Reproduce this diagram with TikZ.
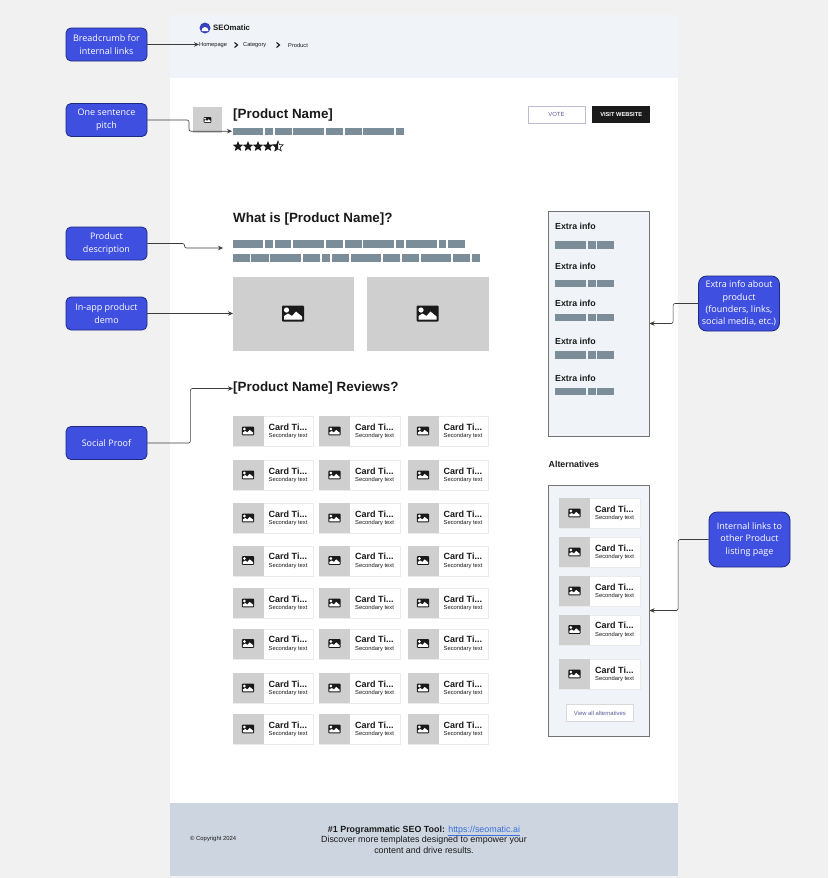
\documentclass[tikz,border=0pt]{standalone}
\usepackage{fontspec}
\setmainfont{Liberation Sans}
\newfontfamily\notefont{Open Sans}
\usepackage{xcolor}
\usetikzlibrary{shapes,positioning,arrows.meta}

\definecolor{pagegray}{HTML}{F1F1F1}
\definecolor{headbg}{HTML}{F0F3F8}
\definecolor{footbg}{HTML}{CDD6E0}
\definecolor{skelgray}{HTML}{7C8D9A}
\definecolor{imggray}{HTML}{CFCFCF}
\definecolor{noteblue}{HTML}{3F4FE0}
\definecolor{noteedge}{HTML}{1E2A80}
\definecolor{inkdark}{HTML}{1A1A1A}
\definecolor{linkblue}{HTML}{3B6FDC}
\definecolor{btntext}{HTML}{5A5A9C}

\tikzset{
    notebox/.style={draw=noteedge, line width=0.8pt, fill=noteblue, rounded corners=5pt, text=white, font=\notefont\fontsize{9}{12.4}\selectfont, align=center, inner sep=0pt, minimum width=81pt, minimum height=33pt},
    notearrow/.style={draw=inkdark!85, line width=0.6pt, rounded corners=2pt, -{Stealth[length=5pt,width=4.5pt]}},
    sidebox/.style={draw=black!55, line width=1pt, fill=headbg, anchor=north west, inner sep=0pt, outer sep=0pt, minimum width=101pt},
    imgbox/.style={fill=imggray, anchor=north west, inner sep=0pt, outer sep=0pt},
    skel/.style={fill=skelgray},
    lefttext/.style={anchor=west, inner sep=0pt, text=inkdark},
    headline/.style={lefttext, font=\bfseries\fontsize{13.4}{16}\selectfont},
    crumbtext/.style={lefttext, font=\fontsize{5.7}{6}\selectfont},
    extratext/.style={lefttext, font=\bfseries\fontsize{8.8}{10}\selectfont},
    outbtn/.style={draw=btntext!40, line width=0.8pt, fill=white, anchor=north west, inner sep=0pt, text=btntext, font=\fontsize{5.9}{6}\selectfont},
    blackstar/.style={star, star points=5, star point ratio=2.3, inner sep=0pt, minimum size=11pt}
}

% picture placeholder, #3 is its size factor
\newcommand{\imgicon}[3]{
    \begin{scope}[shift={(#1,#2)},scale=#3]
        \fill[inkdark, rounded corners=1pt] (-11,-8) rectangle (11,8);
        \fill[white] (-6.5,-3.5) circle (2.6);
        \fill[white] (-9,6) -- (-9,2.5) -- (-5,0) -- (-1,2.5) -- (3,-2) -- (9,3) -- (9,6) -- cycle;
    \end{scope}
}
% one card: grey image on the left, two lines of text on the right
\newcommand{\cardbox}[3]{
    \begin{scope}[shift={(#2,#3)}]
        \node[draw=black!8, line width=0.6pt, fill=white, anchor=north west, inner sep=0pt, minimum width=80.5pt, minimum height=30pt] (#1) at (0,0) {};
        \fill[imggray] (0,0) rectangle (31,30);
        \imgicon{15.5}{15}{0.56}
        \node[lefttext, font=\bfseries\fontsize{9}{10}\selectfont] (#1title) at (36,11) {Card Ti...};
        \node[lefttext, font=\fontsize{5.8}{6}\selectfont] (#1sub) at (36,20) {Secondary text};
    \end{scope}
}
\newcommand{\crumbchev}[2]{
    \draw[inkdark, line width=1.1pt] (#1-1.5,#2-2.5) -- (#1+1.5,#2) -- (#1-1.5,#2+2.5);
}

\begin{document}
\begin{tikzpicture}[x=1pt,y=-1pt]
    \useasboundingbox (0,0) rectangle (828,878);
    \fill[pagegray] (0,0) rectangle (828,878); % Backdrop
    \fill[white] (170,78) rectangle (678,803); % Page
    \fill[headbg] (170,15) rectangle (678,78); % Header
    \fill[footbg] (170,803) rectangle (678,876); % Footer

    % Header
    \fill[noteblue!85!black] (205,28) circle (5.5);
    \fill[white] (201.5,31) arc (180:360:3.5 and 4) -- cycle;
    \node[lefttext, font=\bfseries\fontsize{7.8}{10}\selectfont] (brand) at (213,28) {SEOmatic};
    \node[crumbtext] (crumbhome) at (199,45.5) {Homepage};
    \node[crumbtext] (crumbcat) at (243,45.5) {Category};
    \node[crumbtext] (crumbprod) at (288,45.5) {Product};
    \crumbchev{236}{45}
    \crumbchev{278}{45}

    % Product head
    \node[imgbox, minimum width=29pt, minimum height=26pt] (logobox) at (193,107) {};
    \imgicon{207.5}{120}{0.36}
    \node[headline] (prodname) at (233,115) {[Product Name]};
    \foreach \xa/\xb in {233/263,265/273,275/292,293/324,326/343,345/362,363/394,396/404}
        \fill[skel] (\xa,127.5) rectangle (\xb,135);
    \coordinate (pitchbar) at (232,131.2);
    \foreach \sx in {238,248,258,268}
        \node[blackstar, fill=inkdark] at (\sx,146.5) {};
    \begin{scope}
        \clip (273,140) rectangle (278,153);
        \node[blackstar, fill=inkdark] at (278,146.5) {};
    \end{scope}
    \node[blackstar, draw=inkdark, line width=0.6pt] (halfstar) at (278,146.5) {};
    \node[outbtn, minimum width=57pt, minimum height=17pt] (votebtn) at (527.5,106) {VOTE};
    \node[fill=inkdark, text=white, anchor=north west, inner sep=0pt, minimum width=58pt, minimum height=17pt, font=\bfseries\fontsize{5.7}{6}\selectfont] (visitbtn) at (592,106) {VISIT WEBSITE};

    % Description
    \node[headline] (whatis) at (233,219) {What is [Product Name]?};
    \foreach \xa/\xb in {233/263,265/273,275/291,293/324,326/343,345/362,363/394,396/404,406/437,439/446,448/465}
        \fill[skel] (\xa,240) rectangle (\xb,248);
    \foreach \xa/\xb in {233/250,251/269,270/301,303/320,322/330,332/349,351/381,383/400,402/419,421/451,453/470,472/480}
        \fill[skel] (\xa,254) rectangle (\xb,262);
    \coordinate (descbar) at (223,248);
    \node[imgbox, minimum width=121pt, minimum height=74pt] (demoa) at (233,276.5) {};
    \node[imgbox, minimum width=121.5pt, minimum height=74pt] (demob) at (367,276.5) {};
    \imgicon{293}{313.5}{1}
    \imgicon{427.5}{313.5}{1}

    % Reviews
    \node[headline] (reviews) at (233,388.5) {[Product Name] Reviews?};
    \foreach \rowy [count=\r] in {416,460,503,545.5,588,628.5,673,714}
        \foreach \colx [count=\c] in {232.5,319,407.5} {
            \cardbox{card\r-\c}{\colx}{\rowy}
        }

    % Extra info
    \node[sidebox, minimum height=225pt] (extrabox) at (548.5,211) {};
    \foreach \texty/\bary [count=\i] in {226/241,266/279.5,303/313.5,341/351,378/387.5} {
        \node[extratext] (extra\i) at (555,\texty) {Extra info};
        \foreach \xa/\xb in {555/586,587.5/595.5,597/614}
            \fill[skel] (\xa,\bary) rectangle (\xb,\bary+7.5);
    }

    % Alternatives
    \node[extratext] (altlabel) at (548.5,464.5) {Alternatives};
    \node[sidebox, minimum height=251pt] (altbox) at (548.5,485) {};
    \foreach \rowy [count=\r] in {498,537,576,614.5,659} {
        \cardbox{alt\r}{559}{\rowy}
    }
    \node[outbtn, draw=black!15, minimum width=67pt, minimum height=17pt] (viewall) at (566,704) {View all alternatives};

    % Footer
    \node[lefttext, font=\fontsize{5.9}{6}\selectfont] (copyright) at (190,839) {© Copyright 2024};
    \node[font=\fontsize{8.9}{10.4}\selectfont, align=center, inner sep=0pt, text=inkdark] (footnote) at (424,839.5) {\textbf{\#1 Programmatic SEO Tool:} \textcolor{linkblue}{\underline{https://seomatic.ai}}\\Discover more templates designed to empower your\\content and drive results.};

    % Notes on the left and right
    \node[notebox] (notecrumb) at (106.5,44.5) {Breadcrumb for\\internal links};
    \node[notebox] (notepitch) at (106.5,120) {One sentence\\pitch};
    \node[notebox] (notedesc) at (106.5,243.5) {Product\\description};
    \node[notebox] (notedemo) at (106.5,313.5) {In-app product\\demo};
    \node[notebox] (notesocial) at (106.5,443) {Social Proof};
    \node[notebox, minimum height=55pt, rounded corners=8pt] (noteextra) at (739,303.5) {Extra info about\\product\\(founders, links,\\social media, etc.)};
    \node[notebox, minimum height=55pt, rounded corners=8pt] (noteinternal) at (749.5,539.5) {Internal links to\\other Product\\listing page};

    \draw[notearrow] (notecrumb.east) -- (notecrumb.east -| crumbhome.west);
    \draw[notearrow] (notepitch.east) -- (189,120) -- (189,131.2) -- (pitchbar);
    \draw[notearrow] (notedesc.east) -- (184.5,243.5) -- (184.5,248) -- (descbar);
    \draw[notearrow] (notedemo) -- (demoa.west);
    \draw[notearrow] (notesocial.east) -- ++(43,0) |- (reviews.west);
    \draw[notearrow] (noteextra.west) -- ++(-25,0) |- (extrabox.east);
    \draw[notearrow] (noteinternal.west) -- ++(-30.5,0) |- (altbox.east);
\end{tikzpicture}
\end{document}
